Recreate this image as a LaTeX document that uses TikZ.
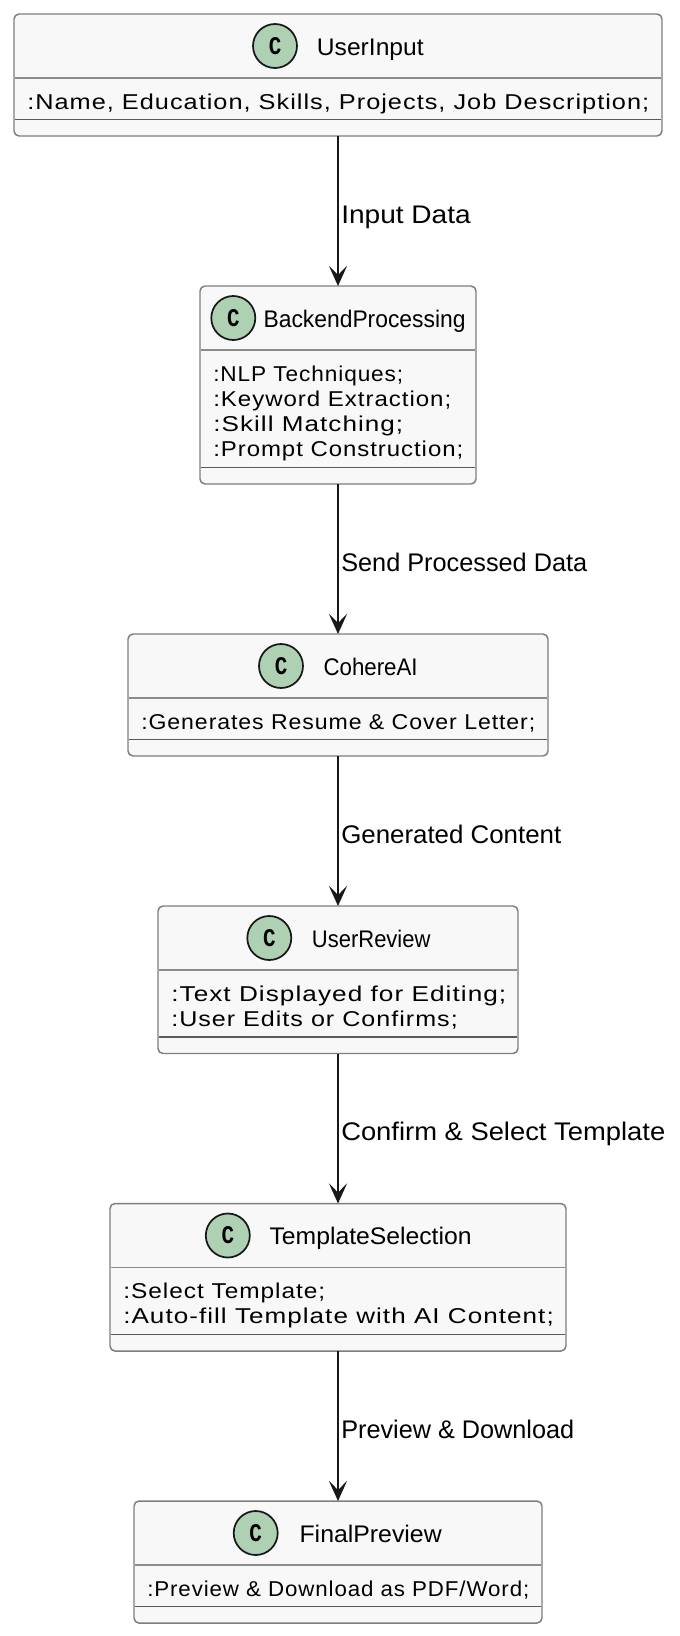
\documentclass[tikz,border=0pt]{standalone}
\usepackage{fontspec}
\setmainfont{Liberation Sans}
\newfontfamily\attrfont[LetterSpace=4]{Liberation Sans}
\newfontfamily\cfont{Liberation Mono}
\usetikzlibrary{arrows.meta}
\newdimen\pxu \pxu=0.75pt
\newcommand\fw[2]{\resizebox{#1\pxu}{\height}{#2}}
\newcommand\cglyph{\resizebox{12.5\pxu}{17\pxu}{\cfont\bfseries C}}
\definecolor{boxfill}{HTML}{F8F8F8}
\definecolor{boxline}{HTML}{7E7E7E}
\definecolor{hdrcol}{HTML}{8C8C8C}
\definecolor{sepcol}{HTML}{5A5A5A}
\definecolor{circfill}{HTML}{ADD1B2}
\definecolor{inkcol}{HTML}{181818}
\tikzset{
  x=0.75pt, y=-0.75pt,
  box/.style 2 args={draw=boxline, fill=boxfill, line width=1.1pt, rounded corners=3.75pt,
    anchor=north, minimum width=#1*0.75pt, minimum height=#2*0.75pt, inner sep=0pt, outer sep=0pt},
  hdrline/.style={draw=hdrcol, line width=1.3pt},
  sepline/.style={draw=sepcol, line width=0.9pt},
  cbadge/.style={circle, draw=inkcol, fill=circfill, line width=1.3pt, minimum size=44*0.75pt, inner sep=0pt},
  clsname/.style={anchor=base west, inner sep=0pt, font=\fontsize{18pt}{21pt}\selectfont},
  attrtext/.style={anchor=base west, inner sep=0pt, font=\attrfont\fontsize{16.1pt}{19pt}\selectfont},
  lbl/.style={anchor=base west, inner sep=0pt, font=\fontsize{19.1pt}{22pt}\selectfont},
  flowarrow/.style={draw=inkcol, line width=1.6pt, -{Stealth[length=15pt, width=13.5pt, inset=6.75pt]}},
}
\begin{document}
\begin{tikzpicture}
\useasboundingbox (0,0) rectangle (680,1636);

% ---- UserInput
\node[box={648}{122}] (b1) at (338,14) {};
\draw[hdrline] (14.6,78) -- (661.4,78);
\draw[sepline] (14.6,119.5) -- (661.4,119.5);
\node[cbadge] (c1) at (275,46) {\cglyph};
\node[clsname] (n1) at (316.7,55) {\fw{106.7}{UserInput}};
\node[attrtext] (a1) at (27,109) {\fw{622}{:Name, Education, Skills, Projects, Job Description;}};

% ---- BackendProcessing
\node[box={276}{198}] (b2) at (338,286) {};
\draw[hdrline] (200.6,350) -- (475.4,350);
\draw[sepline] (200.6,467.5) -- (475.4,467.5);
\node[cbadge] (c2) at (233.3,318) {\cglyph};
\node[clsname] (n2) at (263.3,327) {\fw{202}{BackendProcessing}};
\node[attrtext] (a2a) at (213,381) {\fw{190}{:NLP Techniques;}};
\node[attrtext] (a2b) at (213,406) {\fw{238}{:Keyword Extraction;}};
\node[attrtext] (a2c) at (213,431) {\fw{190}{:Skill Matching;}};
\node[attrtext] (a2d) at (213,456) {\fw{250}{:Prompt Construction;}};

% ---- CohereAI
\node[box={420}{122}] (b3) at (338,634) {};
\draw[hdrline] (128.6,698) -- (547.4,698);
\draw[sepline] (128.6,739.5) -- (547.4,739.5);
\node[cbadge] (c3) at (281,666) {\cglyph};
\node[clsname] (n3) at (323.3,675) {\fw{94}{CohereAI}};
\node[attrtext] (a3) at (141,729) {\fw{394}{:Generates Resume \& Cover Letter;}};

% ---- UserReview
\node[box={360}{147.5}] (b4) at (338,906) {};
\draw[hdrline] (158.6,970) -- (517.4,970);
\draw[sepline] (158.6,1037) -- (517.4,1037);
\node[cbadge] (c4) at (269.3,938) {\cglyph};
\node[clsname] (n4) at (311.7,947) {\fw{118.5}{UserReview}};
\node[attrtext] (a4a) at (171,1001) {\fw{335}{:Text Displayed for Editing;}};
\node[attrtext] (a4b) at (171,1026) {\fw{286.5}{:User Edits or Confirms;}};

% ---- TemplateSelection
\node[box={456}{147.5}] (b5) at (338,1203.5) {};
\draw[hdrline] (110.6,1267.5) -- (565.4,1267.5);
\draw[sepline] (110.6,1334.5) -- (565.4,1334.5);
\node[cbadge] (c5) at (227.8,1235.5) {\cglyph};
\node[clsname] (n5) at (269.3,1244.5) {\fw{202}{TemplateSelection}};
\node[attrtext] (a5a) at (123,1298.5) {\fw{202}{:Select Template;}};
\node[attrtext] (a5b) at (123,1323.5) {\fw{430.5}{:Auto-fill Template with AI Content;}};

% ---- FinalPreview
\node[box={408}{122}] (b6) at (338,1501) {};
\draw[hdrline] (134.6,1565) -- (541.4,1565);
\draw[sepline] (134.6,1606.5) -- (541.4,1606.5);
\node[cbadge] (c6) at (255.7,1533) {\cglyph};
\node[clsname] (n6) at (299.3,1542) {\fw{142.2}{FinalPreview}};
\node[attrtext] (a6) at (147,1596) {\fw{382}{:Preview \& Download as PDF/Word;}};

% ---- connectors
\draw[flowarrow] (b1.south) -- (b2.north);
\draw[flowarrow] (b2.south) -- (b3.north);
\draw[flowarrow] (b3.south) -- (b4.north);
\draw[flowarrow] (b4.south) -- (b5.north);
\draw[flowarrow] (b5.south) -- (b6.north);

% ---- connector labels
\node[lbl] (l1) at (341,223) {\fw{129.5}{Input Data}};
\node[lbl] (l2) at (341,571) {\fw{246}{Send Processed Data}};
\node[lbl] (l3) at (341,843) {\fw{220}{Generated Content}};
\node[lbl] (l4) at (341,1140.5) {\fw{324}{Confirm \& Select Template}};
\node[lbl] (l5) at (341,1438) {\fw{233}{Preview \& Download}};
\end{tikzpicture}
\end{document}
